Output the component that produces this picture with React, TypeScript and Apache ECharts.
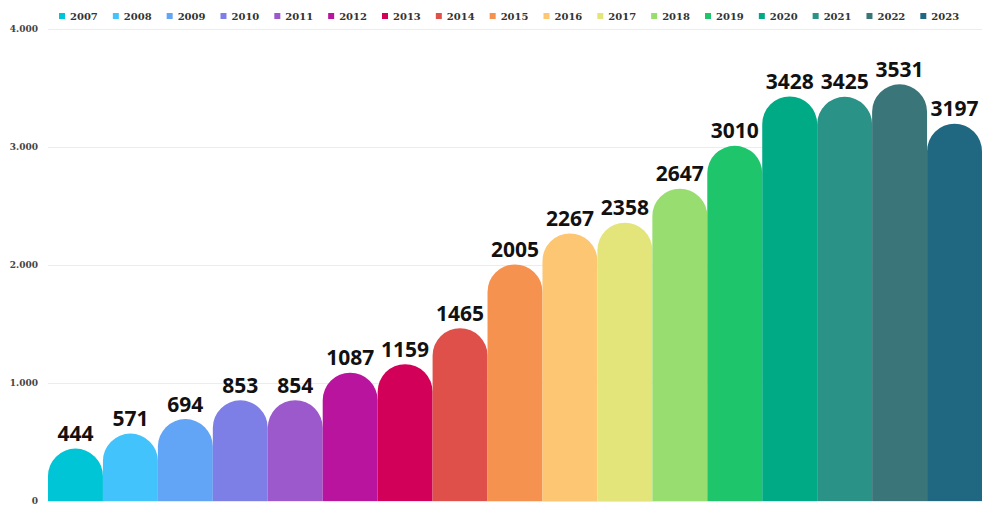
import React, { useEffect, useRef } from "react";
import * as echarts from "echarts";

const years = ["2007","2008","2009","2010","2011","2012","2013","2014","2015","2016","2017","2018","2019","2020","2021","2022","2023"];
const values = [444, 571, 694, 853, 854, 1087, 1159, 1465, 2005, 2267, 2358, 2647, 3010, 3428, 3425, 3531, 3197];
const colors = ["#00c5d7","#42c3fb","#62a4f6","#7e7fe6","#9b59cc","#b9149e","#d20058","#e0504a","#f5924f","#fcc673","#e3e57a","#97dd70","#1fc56b","#00aa85","#2a9287","#3a757a","#206882"];
const yTicks = [0, 1000, 2000, 3000, 4000];

export default function App() {
  const ref = useRef<HTMLDivElement>(null);
  useEffect(() => {
    if (!ref.current) return;
    const chart = echarts.init(ref.current, null, { renderer: "svg" });
    const series = years.map((y, i) => ({
      name: y,
      type: "bar",
      stack: "total",
      barCategoryGap: "0%",
      data: values.map((v, j) => (j === i ? v : null)),
      itemStyle: { color: colors[i], borderRadius: [30, 30, 0, 0] },
      label: {
        show: true,
        position: "top",
        distance: 5,
        color: "#111",
        fontFamily: "Open Sans",
        fontWeight: 700,
        fontSize: 21,
      },
    }));
    chart.setOption({
      animation: false,
      backgroundColor: "#ffffff",
      color: colors,
      legend: {
        top: 6,
        left: 54,
        width: 960,
        itemWidth: 6,
        itemHeight: 6,
        itemGap: 15,
        icon: "rect",
        textStyle: { fontFamily: "DejaVu Serif", fontWeight: 700, fontSize: 10, color: "#333" },
        data: years,
      },
      grid: { left: 48, right: -2, top: 29, bottom: 9 },
      xAxis: {
        type: "category",
        data: years,
        axisTick: { show: false },
        axisLabel: { show: false },
        axisLine: { lineStyle: { color: "#e4e8ee" } },
      },
      yAxis: {
        type: "value",
        min: 0,
        max: yTicks[yTicks.length - 1],
        interval: 1000,
        axisLabel: {
          margin: 10,
          fontFamily: "DejaVu Serif",
          fontWeight: 700,
          fontSize: 9,
          color: "#444",
          formatter: (v: number) => (v >= 1000 ? (v / 1000).toFixed(0) + ".000" : String(v)),
        },
        splitLine: { lineStyle: { color: "#ececec" } },
      },
      series,
    });
    return () => chart.dispose();
  }, []);
  return <div ref={ref} style={{ position: "fixed", left: 0, top: 0, width: 982, height: 510 }} />;
}
